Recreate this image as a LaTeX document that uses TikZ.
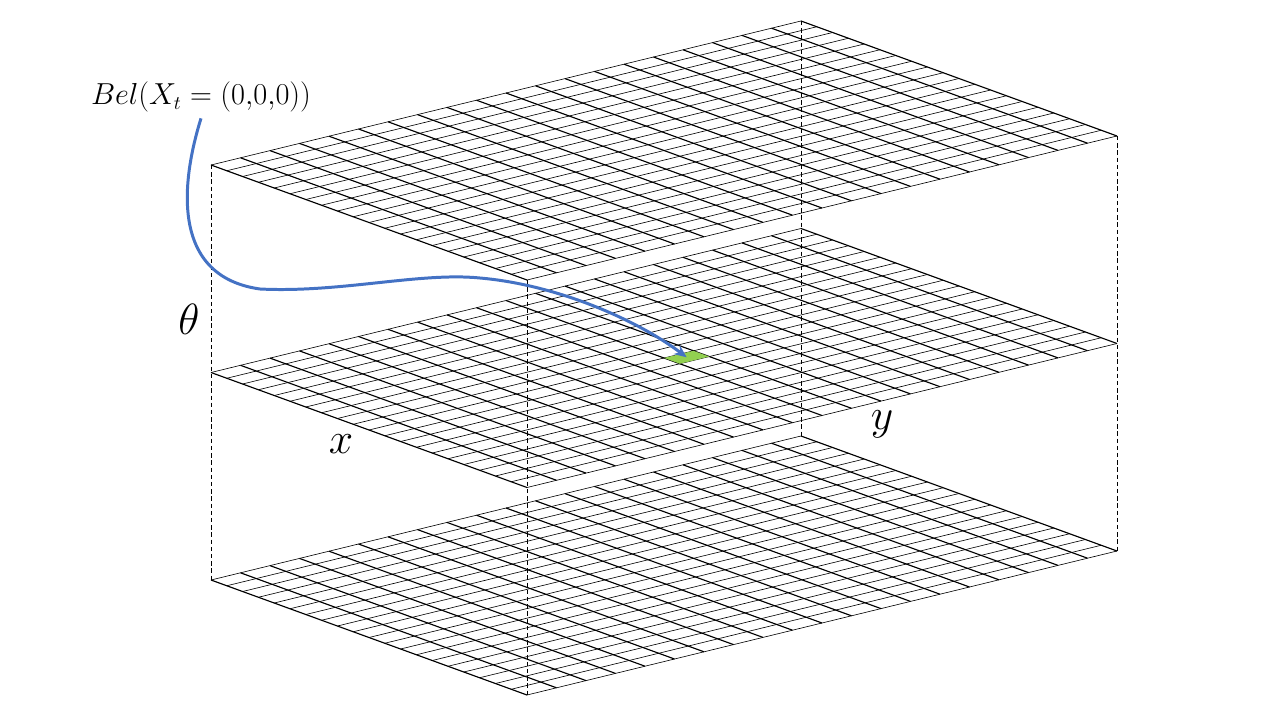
\documentclass[tikz,border=0pt]{standalone}
\usepackage{tikz}
\usetikzlibrary{arrows.meta,calc,positioning}
\usepackage{xcolor}
\newcommand{\NCells}{20}
\newcommand{\LayerGap}{207.5}
\newcommand{\XLeft}{211}
\newcommand{\YLeft}{165}
\definecolor{CurveBlue}{RGB}{68,114,196}
\definecolor{CellGreen}{RGB}{146,208,80}
\newcommand{\PlaceLayer}[2]{%
  % #1 prefix, #2 number of gaps below the top layer
  \coordinate (#1L) at (\XLeft,\YLeft+#2*\LayerGap);
  \coordinate (#1T) at ($(#1L)+(590,-144)$);
  \coordinate (#1B) at ($(#1L)+(316,115)$);
  \coordinate (#1R) at ($(#1T)+(316,115)$);
  \foreach \i in {0,...,\NCells}{%
    \draw[gridthin] ($(#1L)+\i*(15.8,5.75)$) -- ++(590,-144);
    \draw[gridthick] ($(#1L)+\i*(29.5,-7.2)$) -- ++(316,115);
  }%
}

\begin{document}
\begin{tikzpicture}[
  x=0.02cm, y=-0.02cm,
  gridthin/.style={black,line width=0.35pt},
  gridthick/.style={black,line width=0.65pt},
  pillar/.style={black,line width=0.5pt,dash pattern=on 2.5pt off 1.6pt},
  axislabel/.style={font=\fontsize{28}{30}\selectfont},
  belief/.style={font=\fontsize{15.9}{19}\selectfont},
  pointer/.style={CurveBlue,line width=1.7pt,-{Stealth[length=7pt,width=6pt]}}
]
\useasboundingbox (0,0) rectangle (1280,720);

% Layers
\PlaceLayer{A}{0}
\PlaceLayer{M}{1}
\PlaceLayer{D}{2}

% Vertical pillars
\draw[pillar] (AL) -- (DL);
\draw[pillar] (AB) -- (DB);
\draw[pillar] (AT) -- (DT);
\draw[pillar] (AR) -- (DR);

% Highlighted cell on the middle layer
\fill[CellGreen] ($(ML)+10*(29.5,-7.2)+10*(15.8,5.75)$) -- ++(29.5,-7.2) -- ++(15.8,5.75) -- ++(-29.5,7.2) -- cycle;
\coordinate (cell) at ($(ML)+10.5*(29.5,-7.2)+10.5*(15.8,5.75)$);

% Axis labels
\node[axislabel] (theta) at (189,319) {$\theta$};
\node[axislabel] (xlab) at (341,444) {$x$};
\node[axislabel] (ylab) at (882,424) {$y$};

% Belief label and pointer
\node[belief] (bel) at (201,97) {$Bel\bigl(X_t = (0{,}0{,}0)\bigr)$};
\draw[pointer] (bel.south) .. controls (188,160) and (160,275) .. (260,289)
  .. controls (340,293) and (420,272) .. (480,278)
  .. controls (560,285) and (640,322) .. (cell);

\end{tikzpicture}
\end{document}
